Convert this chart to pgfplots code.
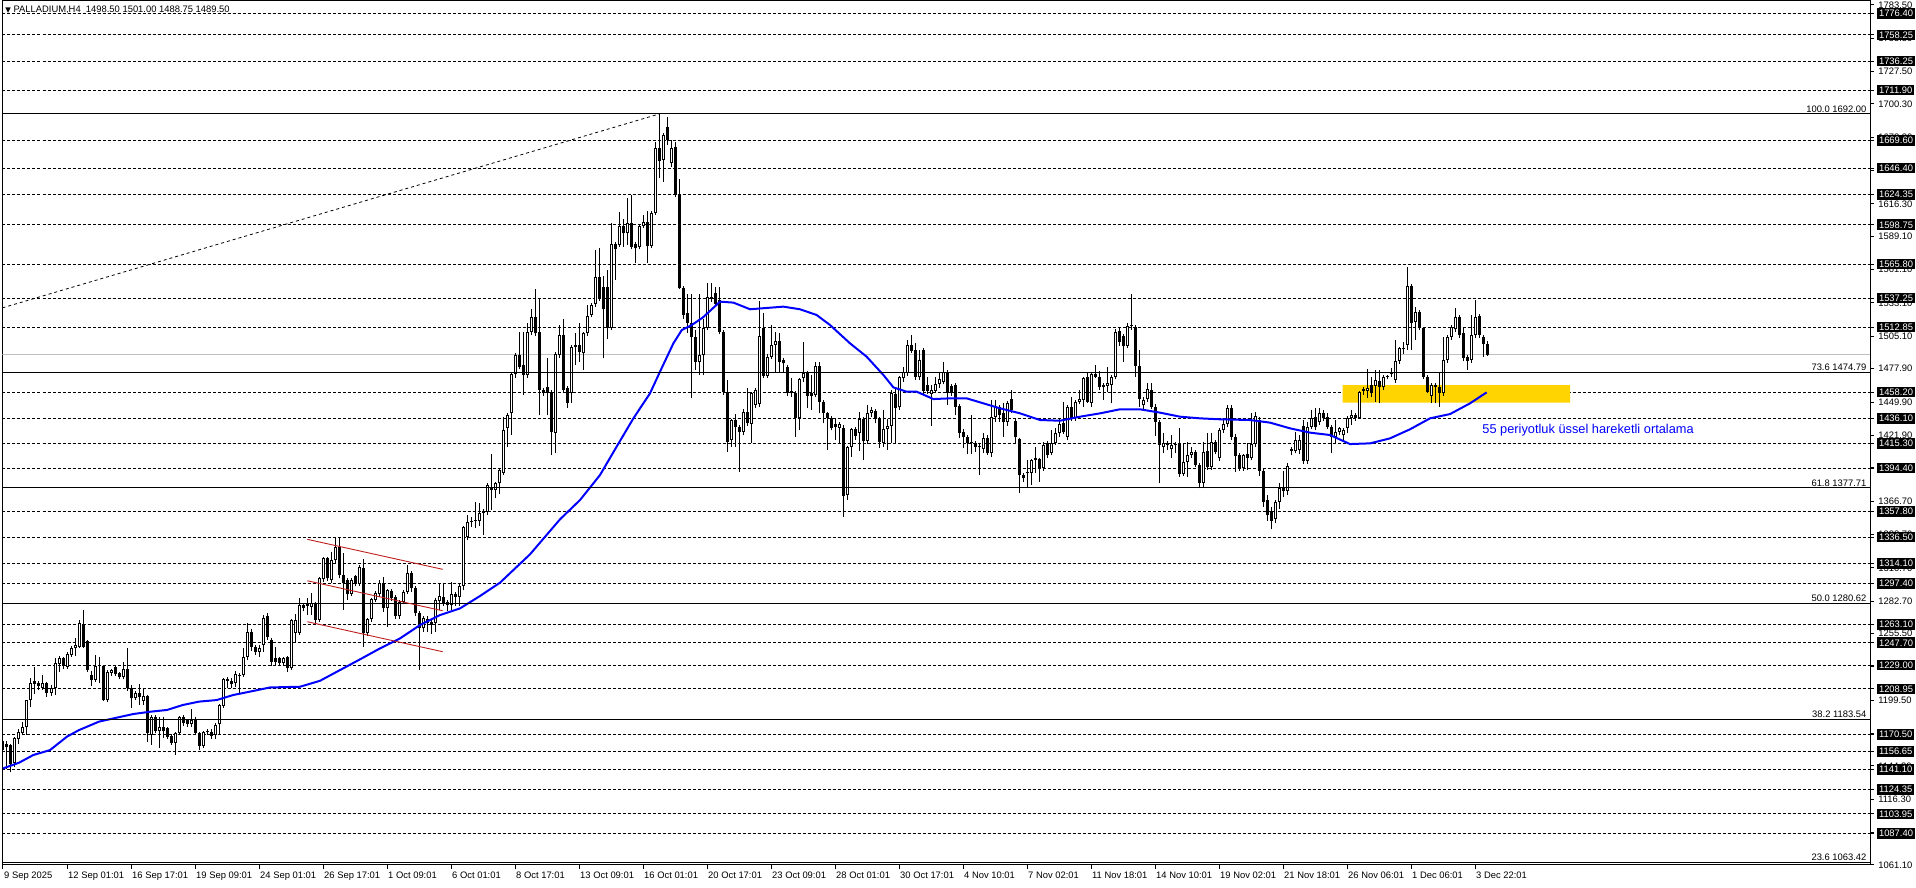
\documentclass[border=0pt]{standalone}
\usepackage{fontspec}
\setmainfont{Liberation Sans}
\newfontfamily\dejavu{DejaVu Sans}
\usepackage{pgfplots}
\usepackage{pgfplotstable}
\pgfplotsset{compat=1.18}

\newcommand\mt{\fontsize{4.7}{5.5}\selectfont}
\definecolor{mablue}{RGB}{0,0,255}
\definecolor{zone}{RGB}{255,212,0}
\definecolor{flag}{RGB}{190,30,30}
\definecolor{bidline}{RGB}{192,192,192}

% H4 candles, one row per bar (bar i sits at pixel x = 3+4i)
\pgfplotstableread{
o h l c
1165.5 1167 1155 1157.7
1163 1165 1142 1160
1161.6 1162.7 1139 1145.6
1146.5 1169 1143.7 1167.5
1167 1175 1163 1173
1171.6 1181 1170 1176.7
1176.7 1200 1170.3 1199.6
1199.6 1217.9 1193.5 1214.2
1215.6 1227.7 1205 1213
1213.6 1216 1208 1211.4
1210 1220.7 1208 1213.6
1213.6 1215 1202.5 1205.8
1205.8 1212 1203 1210
1210 1234.6 1203.9 1230.4
1230 1236.6 1223.5 1234.6
1234.6 1236 1226 1228.2
1227.6 1240 1226 1238
1237.2 1245 1236 1243.3
1243 1252 1236.9 1245.8
1244.5 1266.8 1243 1264.1
1263.2 1275.2 1243 1244.5
1249.2 1250 1223.5 1224.8
1220.7 1224 1211.7 1216.5
1216.5 1237.5 1215 1228.2
1228 1235.5 1213.6 1228.4
1228.2 1229 1199 1199.6
1199.6 1224.5 1198 1223.5
1222.7 1226 1220 1225
1227 1228 1220 1221.5
1222 1223 1217 1218.7
1218.7 1231.8 1217 1225.4
1225.4 1243 1207 1209.5
1209.5 1212 1192.7 1201
1201 1207 1199.6 1205.3
1205.3 1213 1195.5 1202.5
1199 1210 1195.5 1203
1203 1204 1164.7 1171.6
1170.3 1187 1161.8 1185.7
1185.7 1187 1172 1173.9
1173.6 1185.7 1159 1177.3
1177.3 1185.7 1168 1173.9
1175.8 1177 1167 1168.9
1169.4 1171 1162 1163.8
1163.8 1172.5 1153.5 1171.6
1171.6 1186.5 1170 1185.1
1185.1 1187 1178 1180.1
1182.9 1184 1177 1179.5
1179.5 1192 1177 1182.9
1183.7 1185 1170 1171.6
1171.6 1173 1158 1161
1161 1174 1159 1173.1
1173.1 1175 1170 1173.3
1173.1 1175 1167 1169.4
1170.3 1180 1167 1178.7
1179.5 1196 1171 1195.5
1194.6 1218 1193 1217
1217 1219 1209.5 1216
1216 1218 1210 1212.8
1213.6 1224.3 1211 1221.5
1219.8 1222 1205.3 1220.7
1220.7 1243 1219 1236
1236 1264 1233 1256.5
1257 1259 1241 1244.4
1244.4 1246 1237.4 1240.2
1240 1246 1236 1243
1245.8 1271 1240 1268.2
1270 1273 1250 1252.8
1250 1252 1228 1231.8
1234.6 1244 1229 1231.8
1234.6 1236 1228 1230.4
1230.4 1236 1228 1234.6
1236 1237 1223.4 1226.2
1226.2 1268 1225 1266.8
1256 1272 1248.6 1266.8
1256 1285 1254 1279.4
1279.4 1281 1274 1276.6
1279 1285 1271 1279.5
1278 1289.8 1271 1280.8
1280.8 1282 1264 1266.8
1266.8 1303 1265 1301.8
1301 1320 1299 1318.6
1318.6 1320 1300 1301.8
1300.4 1324 1298 1317.2
1317.2 1335.4 1315 1328.4
1328.4 1335.4 1301.8 1304.6
1304.6 1322.8 1275.2 1297.6
1300.4 1302 1283.6 1288.6
1288.6 1302 1287 1300.4
1303.8 1305 1295 1297
1297 1313 1295 1311
1310.2 1317.8 1244.4 1255.6
1255.6 1268.8 1253 1267.4
1267.4 1285.6 1265 1284.2
1283.6 1291 1282 1289.2
1288.6 1300.4 1286 1297.6
1297.6 1303.2 1273.8 1276.6
1276.6 1293 1261.2 1292
1291.2 1293 1283 1285
1286.4 1288 1268 1270.2
1270.2 1283.6 1268 1282.2
1282.2 1292 1280 1290.6
1290.6 1313 1289 1306
1306 1308 1290 1293.4
1293.4 1295 1270 1272.4
1272.4 1274 1224.8 1259.8
1259.8 1270.2 1257 1268.2
1267.4 1270 1257 1264
1265.4 1267 1255 1262.6
1264 1285 1257 1283.6
1283 1297.6 1275 1287
1285.8 1297.6 1279 1280.8
1282 1284 1274 1279.4
1279.4 1299 1275 1288.4
1288.4 1290 1279 1286.4
1286.4 1297 1279 1295.4
1295.4 1346 1292 1344.6
1336.8 1355 1334 1349.4
1349.4 1353.6 1345 1350
1350 1366.2 1343.8 1350.6
1350.2 1365 1346 1356.4
1358.6 1360 1338.2 1357
1357.8 1382 1355 1380.2
1378.8 1406 1359.2 1376
1376 1383 1369 1381.6
1381.6 1394 1373 1392.8
1390 1437.6 1388.6 1426.4
1427.8 1441 1412.4 1439
1441 1475 1422.4 1473.4
1473.4 1491 1470 1489.4
1489.4 1509 1478 1479.6
1481 1509 1455.8 1472.6
1472.6 1516 1470 1509
1509 1528 1506 1521
1521 1544.6 1505 1507.6
1509 1537 1439 1460
1460 1462 1455 1457.8
1462.8 1486.6 1439 1457.8
1458.6 1460 1405.4 1425
1424.2 1492 1406.8 1490.2
1489.4 1514.6 1487 1506.2
1506.2 1520 1458 1460
1461.4 1463 1445 1449.4
1457.2 1498 1448.8 1496.4
1497.8 1507.6 1481 1496.4
1497.8 1516.6 1483.8 1491.6
1490.8 1509 1476.8 1507.6
1507.6 1531.4 1505 1522.2
1523 1533.4 1521 1531.4
1532.2 1577.6 1530 1554.6
1554.6 1579 1535 1537
1546.8 1556 1486.6 1527.8
1546.2 1560.8 1502.6 1511.8
1511.8 1600 1510 1582.6
1582.6 1584 1552.4 1578.2
1581.8 1609.8 1580 1597.8
1597.8 1604 1580.4 1591.6
1591.6 1621 1581.8 1600.6
1600.6 1623.8 1578 1580.4
1582.6 1584 1566.4 1579
1580.4 1599 1578 1597.8
1597.8 1607 1596 1601.4
1601.4 1610 1566.4 1581
1581 1610 1579 1608.4
1609 1668.6 1607 1663
1663 1692 1637.8 1652.6
1653.2 1676 1635 1674.2
1680.6 1689 1666 1670
1650.4 1670 1647.6 1663
1664.4 1668.6 1622 1623.8
1623.8 1637 1545 1545.4
1545.4 1547 1520 1523
1524.4 1541 1508 1516
1516 1541 1453 1504.8
1504.8 1510.4 1477 1483.8
1483.8 1541 1472.6 1489.4
1489.4 1520 1472.6 1511.8
1511.8 1550.2 1510 1538.4
1538.4 1549.6 1534 1536.2
1541.2 1546.8 1530 1532.2
1535.6 1546.8 1507 1509
1509 1510 1456 1458.6
1458.6 1468.4 1408.2 1416.6
1418 1436 1412.4 1434.8
1434.8 1440 1412.4 1429.2
1429.2 1431 1391.4 1425
1425 1444 1422 1441.8
1441.8 1462 1430 1432
1431.6 1458 1415.2 1457.2
1447.4 1462 1445 1460
1448.2 1535 1446 1505.4
1511.8 1524.4 1470 1471.8
1471.8 1490 1470 1488
1488 1514.6 1486 1497.8
1497.8 1509 1475.4 1501.4
1501.4 1507.6 1475.4 1483.8
1485.2 1487 1475.4 1482.4
1479.6 1481 1455 1457.2
1459.2 1469.8 1454.4 1457.2
1457.2 1459 1420.8 1436.2
1436.2 1470 1426.4 1469
1469.8 1500.6 1467 1474.6
1474.6 1476 1444.6 1455
1457.2 1472.6 1443.2 1455
1455.8 1483.8 1454 1480.2
1480.2 1483.8 1440.4 1450.2
1450.2 1452 1432 1440.4
1440.4 1441.8 1409.6 1436.2
1436.2 1438 1426 1428.4
1431.4 1436.2 1418 1429.2
1428.4 1433 1415.2 1431.4
1428.4 1431 1353.6 1371
1371.8 1413 1367.6 1412.4
1412.4 1428 1404 1427
1427 1429 1418 1421.4
1424.2 1441.8 1409 1435.8
1435.4 1437 1401 1417.4
1417.4 1447.4 1415 1440.4
1440.4 1446 1437 1443.2
1442.6 1444 1432 1435.4
1435.4 1437 1411 1416.6
1415.8 1443.2 1412.4 1427
1427 1436 1409.6 1429.8
1429.8 1460 1415.2 1457.8
1456.6 1461.4 1415.2 1444.6
1445.4 1472 1443 1470.6
1469.8 1479.6 1467 1475.4
1474.6 1502 1472 1497.8
1497.8 1506.2 1491 1493
1493.6 1499.2 1468 1470.6
1470.6 1493.6 1468.4 1485.2
1493.6 1495 1457 1459.4
1464.2 1471.2 1457 1459.4
1456.6 1464.2 1429.8 1460
1459.4 1471.2 1458 1465
1465 1475.4 1461.4 1469
1467 1483.8 1465 1475.4
1475.4 1477 1447.4 1457.8
1463.4 1465 1455 1457.8
1464.2 1466 1439 1446
1446.6 1448 1420 1424.2
1425 1427 1411 1420.2
1420.8 1422 1406.2 1415.2
1415.2 1439 1406.2 1416.6
1415.2 1417 1408 1411.8
1413 1415 1388.6 1411.8
1410.2 1423.6 1406.8 1419.4
1419.4 1422 1405.4 1406.8
1406.8 1451.6 1404 1437
1437 1451.6 1433 1445.4
1445.4 1447 1433 1439
1440.4 1448.8 1420.8 1433.4
1433.4 1451 1430 1449.4
1452.2 1460 1441 1443.2
1434.2 1436 1415 1420.2
1418.6 1420 1373.2 1388.6
1388.6 1390 1383 1385.8
1391.4 1401 1378.8 1390
1390.6 1402 1380 1401.2
1402.6 1412.4 1390 1401.2
1401.8 1403 1383 1394.2
1394.2 1416.6 1392 1413.8
1415.2 1417 1403 1405.4
1407.4 1426.4 1405 1415.8
1415.8 1428 1414 1423.6
1423.6 1436.2 1420.8 1431.4
1432 1450.2 1423 1425
1420.8 1447 1418 1445.4
1445.4 1454.4 1434 1436.2
1436.2 1452 1434 1450.2
1450.2 1460 1448 1452.2
1451.6 1471 1445.4 1469.8
1471.2 1475.4 1449 1450.2
1449.4 1475 1446 1473.4
1473.4 1481 1470 1471.2
1471.2 1476.2 1460 1462.8
1464.2 1466 1451.6 1462.2
1463.4 1479.6 1458.6 1465.6
1464.2 1473 1448.8 1471.2
1471.2 1511 1469 1509
1509.8 1512 1497 1500.6
1505.4 1507 1483.8 1497
1497 1516 1495 1513.8
1513.8 1541 1510.4 1514.2
1513.2 1515 1471.2 1480.2
1480.2 1494 1446 1452.2
1447 1454 1444 1452
1452.2 1465.6 1450 1460.6
1460 1465.6 1444 1446
1446 1448 1421 1433.4
1433.4 1435 1381.6 1413.8
1412.4 1423.6 1406.8 1415.2
1415.2 1417 1410 1413.8
1410.2 1422.2 1402.6 1413.8
1414.6 1416 1407 1413.8
1414.6 1427.8 1387 1389.4
1389.4 1415 1388 1399.8
1399.8 1416.6 1387.2 1405.4
1405.4 1412.4 1403 1408.2
1408.2 1410 1395 1397
1397 1399 1377.4 1382.2
1382.2 1416.6 1377.4 1408.2
1409 1423.6 1393 1395
1395 1423.6 1393 1416.6
1416.6 1418 1406 1408.2
1402.6 1428 1400 1426.4
1426.4 1436.2 1424 1431.4
1431.4 1447.4 1429 1444.6
1444.6 1447.4 1418 1420.8
1420.8 1423 1391.4 1404.6
1405.4 1407 1392 1394.2
1394.2 1406 1392.2 1405.4
1406.2 1415.2 1392.8 1402.6
1403 1440.4 1401 1415
1415 1441.6 1412 1438
1435 1437 1388 1392
1392 1394 1362 1366
1368 1372 1350 1355
1358 1362 1343 1350
1352 1368 1348 1366
1366 1382 1360 1378
1378 1392 1370 1375
1375 1398.6 1372 1396
1410.2 1412 1405 1409
1409 1425 1406.8 1418
1409.6 1422 1406 1418
1429.8 1434.8 1398 1400.6
1400.6 1433.4 1398 1429.2
1429.2 1443.2 1427 1436.2
1437.6 1444.6 1426 1428.6
1433.4 1444.6 1431 1440.4
1441 1443 1434 1436.2
1437.6 1440.4 1427 1429.2
1429.2 1431 1406.8 1420.8
1420.8 1434.8 1415 1425
1425 1429 1422 1427.8
1422.2 1428 1418 1426.4
1427.8 1438 1423.6 1436.2
1436.2 1443.2 1430.6 1439
1439 1441 1434 1436.2
1436.2 1459 1436 1458.6
1460.6 1462.8 1455.8 1459.4
1459.4 1477.4 1453 1461.4
1464.2 1471.2 1454.4 1457.8
1463.6 1476.8 1450.2 1468.4
1467.8 1476.8 1448.8 1462.2
1462.2 1473 1460 1471.2
1471.2 1472.6 1469 1471.6
1473.8 1478.2 1471 1474
1468.4 1502 1466 1484.6
1484.6 1496.4 1482 1495
1495 1500.6 1490 1494.2
1498 1563.6 1494 1547.4
1547.4 1549 1493.6 1516.6
1517.4 1530 1502 1525.8
1525.8 1527 1510 1511.8
1511.8 1513 1469 1470.6
1471.2 1472.6 1457.2 1458.6
1455 1465.6 1448.8 1464.2
1464.2 1466 1448.8 1462.8
1462.8 1474 1446 1457.8
1457.8 1504.8 1455 1485.2
1485.2 1506 1483 1504.8
1504.2 1515 1502 1513.2
1511 1528.6 1509 1521.6
1521.6 1523 1504 1506.2
1507.6 1511.8 1484 1486.6
1487.4 1489 1476.8 1484.6
1485.2 1523 1483 1506.2
1506.2 1535.6 1504 1521
1522.2 1524 1504 1506.2
1504.8 1506.2 1488 1498.6
1498.5 1501 1488.75 1489.5
}\candles

% EMA(55) read at pixel x
\pgfplotstableread{
x y
3 1142.2
19 1147
33.4 1153.5
50 1157.6
67 1168.9
79 1174.4
99 1181.5
116.6 1184.8
133.4 1187.9
150 1189.8
167 1191.3
183 1195.5
199 1198.3
216.6 1199.6
233.4 1203.9
250 1206.7
270 1210.2
300 1210.8
320 1215.8
340 1224.8
360 1233.8
380 1243
400 1251.4
420 1262.6
440 1271
460 1276.6
480 1287
500 1298.2
530 1322
560 1351.4
580 1367.6
600 1388.6
616.6 1412.4
633.4 1436.2
650 1457.2
660 1475.4
673.4 1499.2
681.8 1510.4
691.8 1514.6
703 1521
720 1534.2
733.4 1533.4
750 1527.8
783.4 1530
800 1527.8
816.6 1523
830 1514.6
850 1499.2
866.6 1488
883.4 1472.6
893.4 1462.2
906.6 1458.6
916.6 1458.6
933.4 1452.4
950 1453
966.6 1453
983.4 1448.8
1000 1444.6
1020 1440.4
1040 1434.8
1060 1434.2
1080 1437.6
1100 1440.4
1120 1443.8
1140 1443.8
1160 1441
1180 1437.6
1200 1436.2
1220 1435.4
1250 1434.8
1270 1432.6
1290 1427.8
1310 1424.2
1330 1422.2
1350 1414.6
1370 1415.2
1390 1419.4
1410 1427
1430 1436.2
1450 1439.8
1470 1448.8
1486.6 1458
}\ema

% turn the candle rows into three broken paths (wicks, bodies, hollow insides)
\pgfplotstablegetrowsof{\candles}
\pgfmathtruncatemacro\lastrow{\pgfplotsretval-1}
\gdef\wickpts{}\gdef\bodypts{}\gdef\holepts{}
\foreach \i in {0,...,\lastrow}{%
  \pgfplotstablegetelem{\i}{o}\of\candles\let\co\pgfplotsretval
  \pgfplotstablegetelem{\i}{h}\of\candles\let\ch\pgfplotsretval
  \pgfplotstablegetelem{\i}{l}\of\candles\let\cl\pgfplotsretval
  \pgfplotstablegetelem{\i}{c}\of\candles\let\cc\pgfplotsretval
  \pgfmathtruncatemacro\cx{3+4*\i}%
  \pgfmathsetmacro\bl{min(\co,\cc)}%
  \pgfmathsetmacro\bh{max(max(\co,\cc),\bl+0.9)}%
  \xdef\wickpts{\wickpts(\cx,\cl)(\cx,\ch)(\cx,nan)}%
  \xdef\bodypts{\bodypts(\cx,\bl)(\cx,\bh)(\cx,nan)}%
  \pgfmathtruncatemacro\up{(\cc>=\co)&&(\bh-\bl>1.8)}%
  \ifnum\up=1
    \pgfmathsetmacro\il{\bl+0.84}%
    \pgfmathsetmacro\ih{\bh-0.84}%
    \xdef\holepts{\holepts(\cx,\il)(\cx,\ih)(\cx,nan)}%
  \fi
}

\begin{document}
\begin{tikzpicture}
\useasboundingbox (0,-11.5pt) rectangle (958pt,432.5pt);
\begin{axis}[
    at={(1.25pt,0pt)}, anchor=south west,
    scale only axis, width=933.75pt, height=432pt,
    xmin=2.5, xmax=1870, ymin=1061.1, ymax=1786.7,
    axis line style={line width=0.5pt},
    tick align=outside, major tick length=2pt,
    tick style={black, line width=0.5pt},
    xtick pos=bottom, ytick pos=right, yticklabel pos=right,
    xtick={3,67,131,195,259,323,387,451,515,579,643,707,771,835,899,963,1027,1091,1155,1219,1283,1347,1411,1475},
    xticklabels={9 Sep 2025, 12 Sep 01:01, 16 Sep 17:01, 19 Sep 09:01, 24 Sep 01:01, 26 Sep 17:01, 1 Oct 09:01, 6 Oct 01:01, 8 Oct 17:01, 13 Oct 09:01, 16 Oct 01:01, 20 Oct 17:01, 23 Oct 09:01, 28 Oct 01:01, 30 Oct 17:01, 4 Nov 10:01, 7 Nov 02:01, 11 Nov 18:01, 14 Nov 10:01, 19 Nov 02:01, 21 Nov 18:01, 26 Nov 06:01, 1 Dec 06:01, 3 Dec 22:01},
    xticklabel style={font=\mt, anchor=north west, inner sep=1pt, xshift=-0.6pt, yshift=-0.5pt},
    ytick={1061.1,1088.3,1116.3,1144.3,1171.5,1199.5,1227.5,1255.5,1282.7,1310.7,1338.7,1366.7,1394.7,1421.9,1449.9,1477.9,1505.1,1533.1,1561.1,1589.1,1616.3,1644.3,1672.3,1700.3,1727.5,1755.5,1783.5},
    scaled y ticks=false,
    yticklabel style={font=\mt, anchor=west, inner sep=1pt, xshift=1pt,
      /pgf/number format/fixed, /pgf/number format/fixed zerofill,
      /pgf/number format/precision=2, /pgf/number format/1000 sep={},
      /pgf/number format/assume math mode=true},
    extra y ticks={1776.40,1758.25,1736.25,1711.90,1669.60,1646.40,1624.35,1598.75,1565.80,1537.25,1512.85,1458.20,1436.10,1415.30,1394.40,1357.80,1336.50,1314.10,1297.40,1263.10,1247.70,1229.00,1208.95,1170.50,1156.65,1141.10,1124.35,1103.95,1087.40},
    extra y tick style={grid=major,
      major grid style={black, line width=0.5pt, dash pattern=on 1.5pt off 1pt},
      tick label style={fill=black, text=white, inner xsep=1.4pt, inner ysep=0.7pt, xshift=0.3pt}},
]

% support zone
\addplot[draw=none, fill=zone, forget plot] coordinates {(1342.7,1449.4) (1570,1449.4) (1570,1464.2) (1342.7,1464.2) (1342.7,1449.4)};

% bid line
\addplot[bidline, line width=0.5pt, forget plot] coordinates {(2.5,1489.5) (1870,1489.5)};

% candles
\edef\tmp{\noexpand\addplot[black, line width=0.5pt, unbounded coords=jump, forget plot] coordinates {\wickpts};}\tmp
\edef\tmp{\noexpand\addplot[black, line width=1.5pt, unbounded coords=jump, forget plot] coordinates {\bodypts};}\tmp
\edef\tmp{\noexpand\addplot[white, line width=0.5pt, unbounded coords=jump, forget plot] coordinates {\holepts};}\tmp

% EMA 55
\addplot[mablue, line width=1pt, forget plot] table[x=x, y=y] {\ema};

% Fibonacci levels
\addplot[black, line width=0.5pt, forget plot] coordinates {(2.5,1692.00) (1870,1692.00)};
\addplot[black, line width=0.5pt, forget plot] coordinates {(2.5,1474.79) (1870,1474.79)};
\addplot[black, line width=0.5pt, forget plot] coordinates {(2.5,1377.71) (1870,1377.71)};
\addplot[black, line width=0.5pt, forget plot] coordinates {(2.5,1280.62) (1870,1280.62)};
\addplot[black, line width=0.5pt, forget plot] coordinates {(2.5,1183.54) (1870,1183.54)};
\addplot[black, line width=0.5pt, forget plot] coordinates {(2.5,1063.42) (1870,1063.42)};
\addplot[black, line width=0.4pt, dash pattern=on 1.5pt off 1.5pt, forget plot] coordinates {(2.5,1529) (660,1692)};

% flag channel
\addplot[flag, line width=0.45pt, forget plot] coordinates {(307.3,1334.6) (442.7,1309.4)};
\addplot[flag, line width=0.45pt, forget plot] coordinates {(307.3,1299.8) (442.7,1274.6)};
\addplot[flag, line width=0.45pt, forget plot] coordinates {(307.3,1265.4) (442.7,1240.2)};

\node[font=\mt, anchor=south east, inner sep=0.6pt] at (axis cs:1868,1692.00) {100.0 1692.00};
\node[font=\mt, anchor=south east, inner sep=0.6pt] at (axis cs:1868,1474.79) {73.6 1474.79};
\node[font=\mt, anchor=south east, inner sep=0.6pt] at (axis cs:1868,1377.71) {61.8 1377.71};
\node[font=\mt, anchor=south east, inner sep=0.6pt] at (axis cs:1868,1280.62) {50.0 1280.62};
\node[font=\mt, anchor=south east, inner sep=0.6pt] at (axis cs:1868,1183.54) {38.2 1183.54};
\node[font=\mt, anchor=south east, inner sep=0.6pt] at (axis cs:1868,1063.42) {23.6 1063.42};

\node[font=\fontsize{6.4}{7.5}\selectfont, text=mablue, anchor=west, inner sep=0pt] at (axis cs:1482,1426.4) {55 periyotluk üssel hareketli ortalama};

\node[font=\mt, anchor=west, inner sep=0pt] at (axis cs:5,1778.9) {{\dejavu\fontsize{3.6}{4}\selectfont ▼}\ PALLADIUM,H4\ \ 1498.50 1501.00 1488.75 1489.50};

\node[font=\mt, fill=black, text=white, anchor=west, inner xsep=1.4pt, inner ysep=0.7pt] at (axis cs:1871.5,1489.5) {1489.50};

\end{axis}
\end{tikzpicture}
\end{document}
